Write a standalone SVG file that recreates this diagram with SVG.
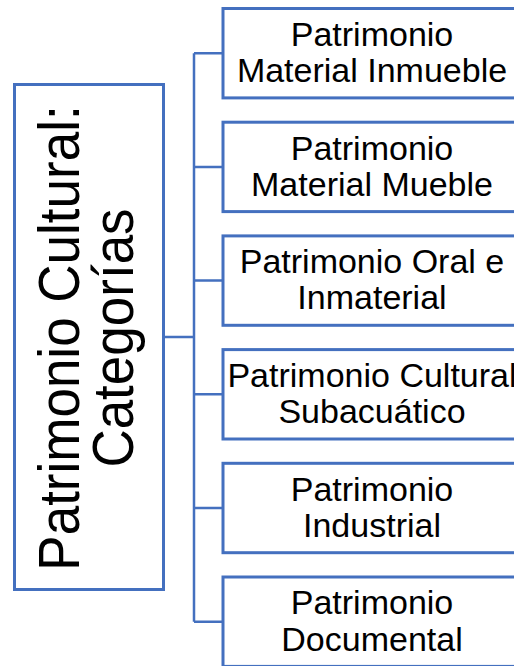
<svg xmlns="http://www.w3.org/2000/svg" width="514" height="666" viewBox="0 0 514 666">
<style>
.box{fill:#fff;stroke:#4470BF;stroke-width:3}
.con{fill:none;stroke:#4470BF;stroke-width:2.5}
.t{font-family:"Liberation Sans",Arial,sans-serif;font-size:34px;fill:#000;text-anchor:middle}
.big{font-family:"Liberation Sans",Arial,sans-serif;font-size:53px;fill:#000;text-anchor:middle}
</style>
<rect width="514" height="666" fill="#fff"/>
<g id="connectors">
<path class="con" d="M163.5,337 H194 M194,53.2 V621.7 M194,53.2 H223 M194,166.9 H223 M194,280.6 H223 M194,394.3 H223 M194,508 H223 M194,621.7 H223"/>
</g>
<g id="root">
<rect class="box" x="14.5" y="84.5" width="149" height="505"/>
<g transform="translate(0,338) rotate(-90) scale(1,1.08)">
<text class="big" x="0" y="73.4">Patrimonio Cultural:</text>
<text class="big" x="0" y="123.4">Categorías</text>
</g>
</g>
<g id="n1">
<rect class="box" x="223" y="8.5" width="300" height="89.4"/>
<text class="t" x="372" y="45.9">Patrimonio</text>
<text class="t" x="372" y="82">Material Inmueble</text>
</g>
<g id="n2">
<rect class="box" x="223" y="122.2" width="300" height="89.4"/>
<text class="t" x="372" y="159.6">Patrimonio</text>
<text class="t" x="372" y="195.7">Material Mueble</text>
</g>
<g id="n3">
<rect class="box" x="223" y="235.9" width="300" height="89.4"/>
<text class="t" x="372" y="273.3">Patrimonio Oral e</text>
<text class="t" x="372" y="309.4">Inmaterial</text>
</g>
<g id="n4">
<rect class="box" x="223" y="349.6" width="300" height="89.4"/>
<text class="t" x="372" y="387">Patrimonio Cultural</text>
<text class="t" x="372" y="423.1">Subacuático</text>
</g>
<g id="n5">
<rect class="box" x="223" y="463.3" width="300" height="89.4"/>
<text class="t" x="372" y="500.7">Patrimonio</text>
<text class="t" x="372" y="536.8">Industrial</text>
</g>
<g id="n6">
<rect class="box" x="223" y="577" width="300" height="89.4"/>
<text class="t" x="372" y="614.4">Patrimonio</text>
<text class="t" x="372" y="650.5">Documental</text>
</g>
</svg>
